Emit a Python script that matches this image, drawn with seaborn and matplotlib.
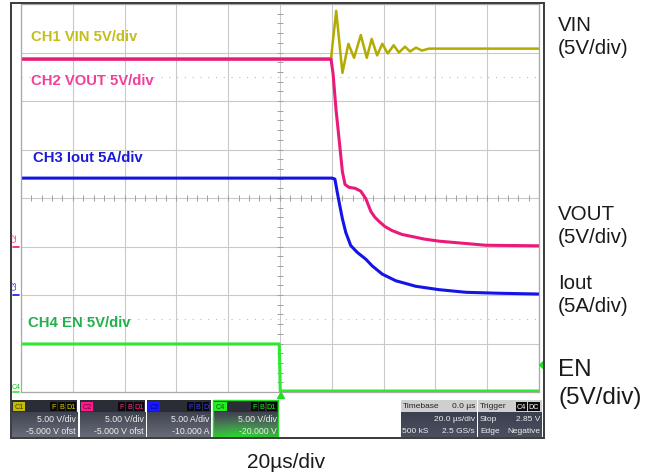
import numpy as np
import pandas as pd
import matplotlib
matplotlib.use("Agg")
import matplotlib.pyplot as plt
import matplotlib.transforms as mtransforms
from matplotlib.patches import Rectangle, Polygon
import seaborn as sns

# ---------------- data (time in µs, values in V / A) ----------------
t_vin = [-100, 19.7, 21.7, 24.1, 26.4, 28.6, 31.2, 33.5, 35.4, 37.5, 39.5,
         41.6, 43.9, 45.9, 48.3, 50.2, 52.5, 54.8, 57.5, 100]
v_vin = [19.4, 19.4, 24.3, 17.9, 20.9, 19.45, 21.8, 19.45, 21.4, 19.7, 20.9,
         19.9, 20.75, 20.0, 20.6, 20.1, 20.5, 20.2, 20.4, 20.4]

t_vout = [-100, 19.7, 20.5, 21.6, 22.8, 24.1, 25.1, 26.6, 29.0, 31.2, 33.1,
          35.1, 36.7, 38.2, 40.5, 43.2, 47.1, 51.0, 55.6, 61.4, 71.7, 79.4, 100]
v_vout = [19.3, 19.3, 17.8, 14.2, 11.1, 7.7, 6.4, 6.1, 6.0, 5.7, 4.95,
          3.6, 3.0, 2.6, 2.06, 1.65, 1.24, 1.03, 0.77, 0.55, 0.31, 0.13, 0.07]

t_iout = [-100, 20.1, 21.2, 22.1, 23.1, 24.1, 25.4, 27.3, 29.8, 33.1, 35.6,
          39.5, 44.7, 52.4, 61.4, 71.7, 84.6, 100]
i_iout = [12.05, 12.05, 11.95, 10.6, 9.2, 7.85, 6.45, 5.1, 4.4, 3.7, 3.0,
          2.15, 1.47, 0.9, 0.55, 0.28, 0.18, 0.1]

t_en = [-100, -0.3, 0.1, 100]
v_en = [4.95, 4.95, 0.1, 0.1]

channels = ["VIN", "VOUT", "Iout", "EN"]
ch_scale = {"VIN": 5.0, "VOUT": 5.0, "Iout": 5.0, "EN": 5.0}      # per div
ch_offset = {"VIN": -5.0, "VOUT": -5.0, "Iout": -10.0, "EN": -20.0}
trace_col = {"VIN": "#b3ab00", "VOUT": "#ea1a78", "Iout": "#1414e6", "EN": "#2ee82e"}
trace_lw = {"VIN": 1.8, "VOUT": 2.2, "Iout": 2.2, "EN": 2.2}

label_text = ["CH1 VIN 5V/div", "CH2 VOUT 5V/div", "CH3 Iout 5A/div", "CH4 EN 5V/div"]
label_col = ["#c4bd1c", "#f0409c", "#1a1ad8", "#22b04c"]
right_labels = ["VIN\n(5V/div)", "VOUT\n(5V/div)", "Iout\n(5A/div)", "EN\n(5V/div)"]
xlabel = "20µs/div"

# ---------------- build data frame ----------------
rows = []
for ch, tt, vv in [("VIN", t_vin, v_vin), ("VOUT", t_vout, v_vout),
                   ("Iout", t_iout, i_iout), ("EN", t_en, v_en)]:
    for t, v in zip(tt, vv):
        rows.append({"t": t, "div": 4 + (v + ch_offset[ch]) / ch_scale[ch], "ch": ch})
df = pd.DataFrame(rows)

sns.set_style("white")
plt.rcParams["font.family"] = ["Liberation Sans", "DejaVu Sans"]
SMALL = ["Liberation Sans", "DejaVu Sans"]

W, H = 660, 477
fig = plt.figure(figsize=(6.6, 4.77), dpi=100)
fig.patch.set_facecolor("white")
L, R, T, B = 21, 539, 5, 393
ax = fig.add_axes([L / W, 1 - B / H, (R - L) / W, (B - T) / H])

# grid
ax.set_xlim(-100, 100)
ax.set_ylim(0, 8)
ax.set_xticks(np.arange(-100, 101, 20))
ax.set_yticks(np.arange(0, 9, 1))
ax.grid(True, color="#c9c9c9", lw=0.8)
ax.set_axisbelow(True)
ax.tick_params(length=0, labelbottom=False, labelleft=False)
for s in ax.spines.values():
    s.set_color("#a8a8a8")
    s.set_linewidth(0.9)
# dotted half-division lines
for yy in (1.5, 6.5):
    ax.axhline(yy, color="#bdbdbd", lw=0.8, ls=(0, (1, 6)), zorder=0.5)
# crosshair minor ticks
xt = np.arange(-100, 101, 4)
ax.vlines(xt, 4 - 0.07, 4 + 0.07, color="#a0a0a0", lw=0.7, zorder=0.6)
yt = np.arange(0, 8.01, 0.2)
ax.hlines(yt, -1.3, 1.3, color="#a0a0a0", lw=0.7, zorder=0.6)

for ch in channels:
    sns.lineplot(data=df[df["ch"] == ch], x="t", y="div", color=trace_col[ch],
                 sort=False, estimator=None, lw=trace_lw[ch], ax=ax)
ax.set_xlabel("")
ax.set_ylabel("")

# channel ground markers in the left strip
blend = mtransforms.blended_transform_factory(ax.transAxes, ax.transData)
for ch, name, rot in [("VOUT", "C2", 90), ("Iout", "C3", 90), ("EN", "C4", 0)]:
    lvl = 4 + ch_offset[ch] / ch_scale[ch]
    ax.plot([-0.016, -0.003], [lvl, lvl], color=trace_col[ch], lw=1.2,
            transform=blend, clip_on=False)
    if rot:
        ax.text(-0.012, lvl + 0.12, name, color=trace_col[ch], fontsize=5,
                rotation=90, ha="center", va="bottom", transform=blend)
    else:
        ax.text(-0.0095, lvl + 0.05, name, color="#22c022", fontsize=5,
                ha="center", va="bottom", transform=blend)

# ---------------- decoration overlay (pixel coords) ----------------
dx = fig.add_axes([0, 0, 1, 1], facecolor="none", zorder=5)

# in-plot channel labels
lab_pos = [(31, 37), (31, 81), (33, 158), (28, 323)]
for (x, y), s, c in zip(lab_pos, label_text, label_col):
    dx.text(x, y, s, color=c, fontsize=10.7, fontweight="bold",
            ha="left", va="center")

# right-side labels
r_pos = [(558, 37), (558, 226), (558, 295), (558, 384)]
for i, ((x, y), s) in enumerate(zip(r_pos, right_labels)):
    fs = 17.5 if i == 3 else 14.8
    dx.text(x, y, s, color="#1a1a1a", fontsize=fs, ha="left", va="center",
            linespacing=1.3)

dx.text(286, 463, xlabel, color="#1a1a1a", fontsize=15, ha="center", va="center")

# outer frame
dx.add_patch(Rectangle((11, 4), 533, 435, fill=False, ec="#3a3a3a", lw=1.4, zorder=10))

# trigger arrows
dx.add_patch(Polygon([[277.5, 399.5], [284.5, 399.5], [281, 393.5]], color="#22dd22"))
dx.add_patch(Polygon([[539.5, 366], [544, 362], [544, 370]], color="#22dd22"))

Y0, YH, Y1 = 401, 413, 438


def grad(x0, x1, top="#3f4450", bot="#676c78", green=False):
    n = 40
    c0 = np.array(matplotlib.colors.to_rgb(top))
    c1 = np.array(matplotlib.colors.to_rgb(bot))
    f = np.linspace(0, 1, n)[:, None, None]
    img = c0 + (c1 - c0) * f
    img = np.repeat(img, 60, axis=1)
    if green:
        yy = np.linspace(0, 1, n)[:, None]
        xx = np.linspace(0, 1, 60)[None, :]
        g = np.clip(yy ** 1.5 * (1 - 0.6 * np.abs(xx - 0.35)), 0, 1)[..., None]
        gc = np.array([0.15, 0.85, 0.15])
        img = img * (1 - g) + gc * g
    dx.imshow(img, extent=[x0, x1, Y1, YH], aspect="auto", origin="upper",
              interpolation="bilinear", zorder=2)


def tag(x, y, w, s, fc, tc):
    dx.add_patch(Rectangle((x, y), w, 9, fc=fc, ec="none", zorder=3))
    dx.text(x + w / 2, y + 4.8, s, color=tc, fontsize=5.2, family=SMALL,
            ha="center", va="center", zorder=4)


boxes = [
    (11.7, 77.3, "C1", "#c4bc00", "#4a4500", "#d8cf00", ["F", "B", "D1"], "5.00 V/div", "-5.000 V ofst"),
    (79.7, 145.3, "C2", "#ff1a8c", "#700038", "#ff2a90", ["F", "B", "D1"], "5.00 V/div", "-5.000 V ofst"),
    (146.7, 210.7, "C3", "#1a1aff", "#0000a0", "#3a3aff", ["F", "B", "D"], "5.00 A/div", "-10.000 A"),
    (213, 278, "C4", "#22ee22", "#0a600a", "#22ee22", ["F", "B", "D1"], "5.00 V/div", "-20.000 V"),
]
for x0, x1, lab, lc, ltc, fcol, fbd, r2, r3 in boxes:
    dx.add_patch(Rectangle((x0, Y0), x1 - x0, YH - Y0, fc="#2a2d35", ec="none", zorder=2))
    grad(x0, x1, green=(lab == "C4"))
    if lab == "C4":
        dx.add_patch(Rectangle((x0, Y0), x1 - x0, Y1 - Y0, fill=False, ec="#22dd22", lw=1.0, zorder=5))
    tag(x0 + 1.2, Y0 + 1.5, 12.5, lab, lc, ltc)
    xr = x1 - 1.5
    for s in reversed(fbd):
        w = 10 if len(s) > 1 else 6.5
        tag(xr - w, Y0 + 1.5, w, s, "#0a0a0a", fcol)
        xr -= w + 1.2
    dx.text(x1 - 1.5, 420, r2, color="#eeeeee", fontsize=6.3, family=SMALL,
            ha="right", va="center", zorder=4)
    dx.text(x1 - 1.5, 432, r3, color="#eeeeee", fontsize=6.3, family=SMALL,
            ha="right", va="center", zorder=4)

# timebase / trigger boxes
for x0, x1 in [(400.7, 476.7), (478, 541.7)]:
    dx.add_patch(Rectangle((x0, Y0), x1 - x0, YH - Y0, fc="#cfcfcf", ec="none", zorder=2))
    grad(x0, x1, top="#3a4050", bot="#4a5060")

tb = [(402.5, 407, "Timebase", "left", "#222222"), (475, 407, "0.0 µs", "right", "#222222"),
      (475, 420, "20.0 µs/div", "right", "#eeeeee"),
      (402.5, 432, "500 kS", "left", "#eeeeee"), (475, 432, "2.5 GS/s", "right", "#eeeeee"),
      (480, 407, "Trigger", "left", "#222222"),
      (480, 420, "Stop", "left", "#eeeeee"), (540, 420, "2.85 V", "right", "#eeeeee"),
      (480, 432, "Edge", "left", "#eeeeee"), (540, 432, "Negative", "right", "#eeeeee")]
for x, y, s, ha, c in tb:
    dx.text(x, y, s, color=c, fontsize=6.0, family=SMALL, ha=ha, va="center", zorder=4)
tag(516, Y0 + 1.5, 11, "C4", "#0a0a0a", "#ffffff")
tag(528, Y0 + 1.5, 12, "DC", "#0a0a0a", "#ffffff")

dx.set_xlim(0, W)
dx.set_ylim(H, 0)
dx.axis("off")

fig.savefig("out.png", dpi=100, facecolor="white")
